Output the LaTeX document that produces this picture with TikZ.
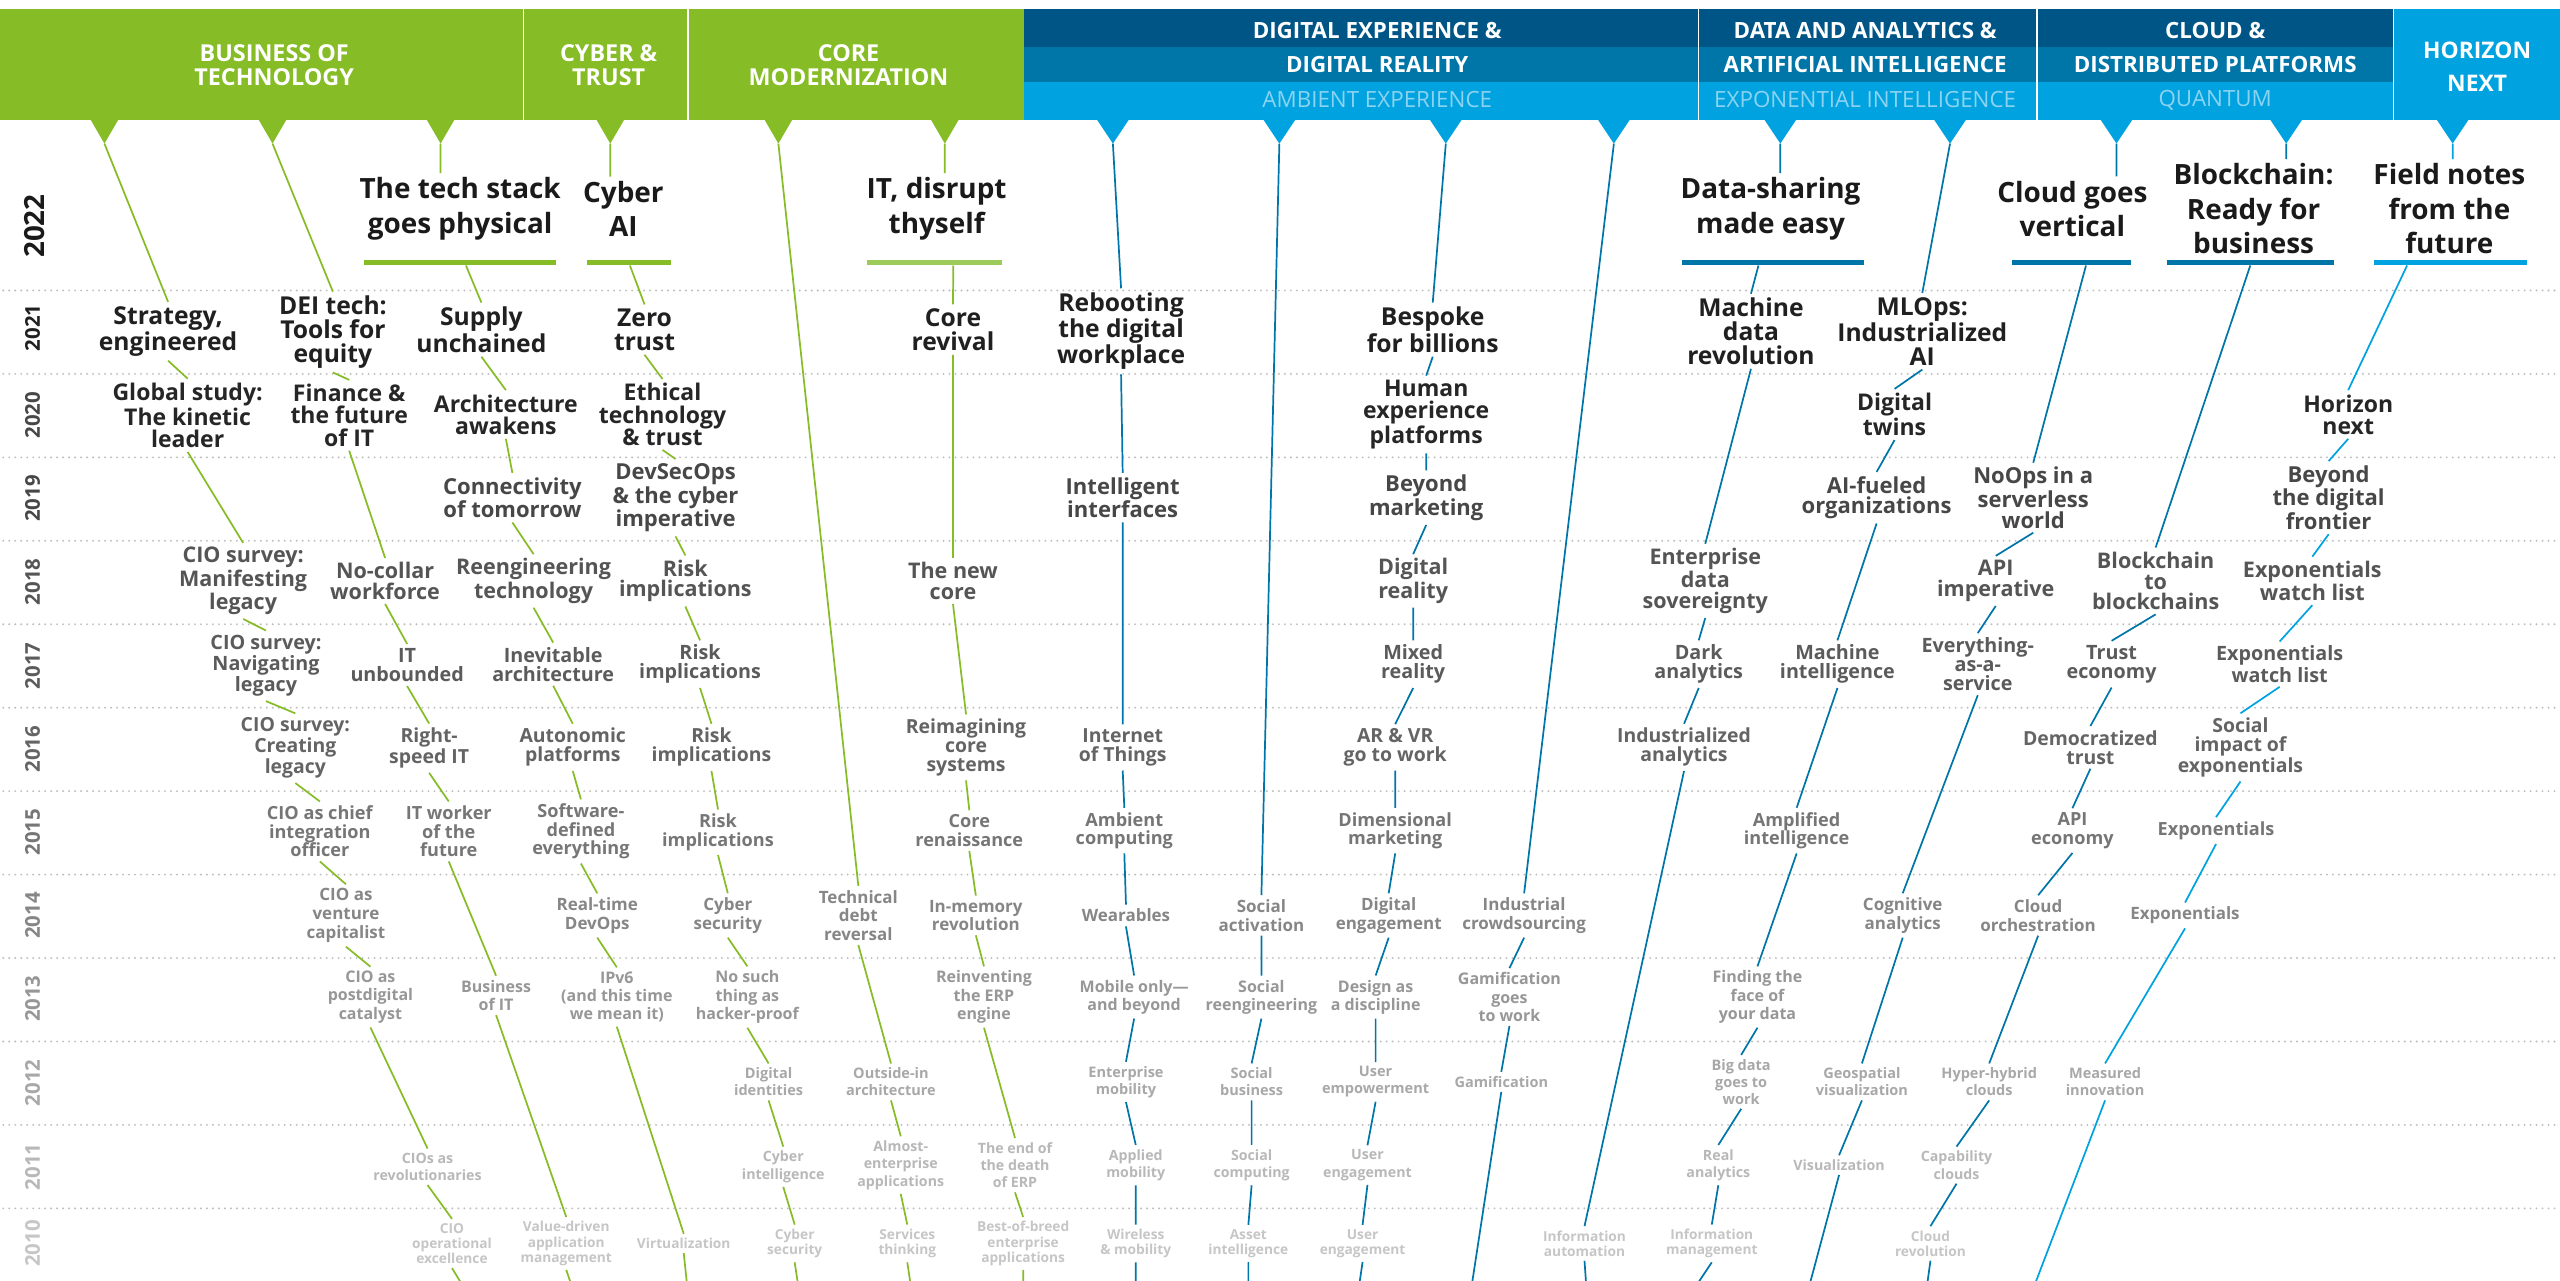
\documentclass[tikz,border=0pt]{standalone}
\usepackage{fontspec}
\setmainfont{Open Sans}
\usetikzlibrary{calc}
\definecolor{dgreen}{HTML}{86BC25}
\definecolor{lgreen}{HTML}{9DCB5A}
\definecolor{bdark}{HTML}{005587}
\definecolor{bmid}{HTML}{0076A8}
\definecolor{blight}{HTML}{00A3E0}
\definecolor{bpale}{HTML}{8CD3F1}
\definecolor{dotc}{HTML}{BEBEBE}
\definecolor{t22}{HTML}{1A1A1A}
\definecolor{t21}{HTML}{202020}
\definecolor{t20}{HTML}{262626}
\definecolor{t19}{HTML}{474747}
\definecolor{t18}{HTML}{555555}
\definecolor{t17}{HTML}{5B5B5B}
\definecolor{t16}{HTML}{646464}
\definecolor{t15}{HTML}{767676}
\definecolor{t14}{HTML}{868686}
\definecolor{t13}{HTML}{979797}
\definecolor{t12}{HTML}{A8A8A8}
\definecolor{t11}{HTML}{B8B8B8}
\definecolor{t10}{HTML}{C6C6C6}
\tikzset{
 itm/.style={align=center, inner xsep=1pt, inner ysep=2.5pt},
 r22/.style={itm,text=t22,font=\bfseries\fontsize{17.1}{21.2}\selectfont},
 r21/.style={itm,text=t21,font=\bfseries\fontsize{15.1}{14.5}\selectfont},
 r20/.style={itm,text=t20,font=\bfseries\fontsize{14.1}{13.6}\selectfont},
 r19/.style={itm,text=t19,font=\bfseries\fontsize{13.5}{12.6}\selectfont},
 r18/.style={itm,text=t18,font=\bfseries\fontsize{13.2}{12.7}\selectfont},
 r17/.style={itm,text=t17,font=\bfseries\fontsize{12.1}{11.7}\selectfont},
 r16/.style={itm,text=t16,font=\bfseries\fontsize{11.9}{11.6}\selectfont},
 r15/.style={itm,text=t15,font=\bfseries\fontsize{11.1}{11.4}\selectfont},
 r14/.style={itm,text=t14,font=\bfseries\fontsize{10.4}{11.4}\selectfont},
 r13/.style={itm,text=t13,font=\bfseries\fontsize{9.8}{11.2}\selectfont},
 r12/.style={itm,text=t12,font=\bfseries\fontsize{8.9}{10.4}\selectfont},
 r11/.style={itm,text=t11,font=\bfseries\fontsize{8.7}{10.6}\selectfont},
 r10/.style={itm,text=t10,font=\bfseries\fontsize{8.4}{9.3}\selectfont},
 yr/.style={rotate=90, inner sep=0pt, font=\bfseries\fontsize{12.5}{12.5}\selectfont},
 hdr/.style={text=white, align=center, inner sep=0pt, font=\bfseries\fontsize{14.3}{14.9}\selectfont},
 hdrl/.style={text=bpale, align=center, inner sep=0pt, font=\fontsize{13.7}{14}\selectfont},
 tbar/.style={fill=#1, draw=none, inner sep=0pt, minimum height=3pt},
 cg/.style={draw=dgreen, line width=1.05pt},
 cb/.style={draw=bmid, line width=1.05pt},
 cl/.style={draw=blight, line width=1.05pt},
 dotl/.style={draw=dotc, line width=1.3pt, line cap=round, dash pattern=on 0pt off 3.67pt},
}
\begin{document}
\begin{tikzpicture}[x=1pt,y=-1pt]
\useasboundingbox (0,0) rectangle (1568.8,785);
\fill[white] (0,0) rectangle (1568.8,785);
% ---------- header ----------
\fill[dgreen] (0,5.5) rectangle (627.5,73.5);
\fill[bdark] (627.5,5.5) rectangle (1466.7,28.6);
\fill[bmid] (627.5,28.6) rectangle (1466.7,50);
\fill[blight] (627.5,50) rectangle (1466.7,73.5);
\fill[blight] (1466.7,5.5) rectangle (1568.8,73.5);
\foreach \x in {320.7,421.7,1040.8,1248.3,1466.7}{\draw[white,line width=0.8pt] (\x,5.5) -- (\x,73.5);}
\foreach \i/\x in {0/64,1/167,2/270,3/374,4/477,5/579}{
  \fill[dgreen] (\x-8.7,73) -- (\x+8.7,73) -- (\x,88) -- cycle;
  \coordinate (p\i) at (\x,88);
}
\foreach \i/\x in {6/682,7/784,8/886,9/989,10/1091,11/1195,12/1297,13/1401,14/1503}{
  \fill[blight] (\x-10,73) -- (\x+10,73) -- (\x,88) -- cycle;
  \coordinate (p\i) at (\x,88);
}
\node[hdr] (h1) at (168,40) {BUSINESS OF\\TECHNOLOGY};
\node[hdr] (h2) at (373,40) {CYBER \&\\TRUST};
\node[hdr] (h3) at (520,40) {CORE\\MODERNIZATION};
\node[hdr, font=\bfseries\fontsize{13.7}{14}\selectfont] (h4a) at (844,18.4) {DIGITAL EXPERIENCE \&};
\node[hdr, font=\bfseries\fontsize{13.7}{14}\selectfont] (h4b) at (844,39.6) {DIGITAL REALITY};
\node[hdrl] (h4c) at (844,61.2) {AMBIENT EXPERIENCE};
\node[hdr, font=\bfseries\fontsize{13.7}{14}\selectfont] (h5a) at (1143,18.4) {DATA AND ANALYTICS \&};
\node[hdr, font=\bfseries\fontsize{13.7}{14}\selectfont] (h5b) at (1143,39.6) {ARTIFICIAL INTELLIGENCE};
\node[hdrl] (h5c) at (1143,61.2) {EXPONENTIAL INTELLIGENCE};
\node[hdr, font=\bfseries\fontsize{13.7}{14}\selectfont] (h6a) at (1357.5,18.4) {CLOUD \&};
\node[hdr, font=\bfseries\fontsize{13.7}{14}\selectfont] (h6b) at (1357.5,39.6) {DISTRIBUTED PLATFORMS};
\node[hdrl] (h6c) at (1357.5,61.2) {QUANTUM};
\node[hdr, font=\bfseries\fontsize{14}{20.4}\selectfont] (h7) at (1518,41) {HORIZON\\NEXT};
% ---------- dotted rules ----------
\foreach \k in {0,...,11}{\draw[dotl] (2,178+\k*51.136) -- (1568,178+\k*51.136);}
% ---------- years ----------
\node[yr, text=t22, font=\bfseries\fontsize{17}{17}\selectfont] (yl22) at (21,138.5) {2022};
\node[yr, text=t21] (yl21) at (20,201) {2021};
\node[yr, text=t20!85!white] (yl20) at (20,254.5) {2020};
\node[yr, text=t19] (yl19) at (20,305.5) {2019};
\node[yr, text=t18] (yl18) at (20,356.5) {2018};
\node[yr, text=t17] (yl17) at (20,408) {2017};
\node[yr, text=t16] (yl16) at (20,459) {2016};
\node[yr, text=t15] (yl15) at (20,510) {2015};
\node[yr, text=t14] (yl14) at (20,561) {2014};
\node[yr, text=t13] (yl13) at (20,612) {2013};
\node[yr, text=t12] (yl12) at (20,663.5) {2012};
\node[yr, text=t11] (yl11) at (20,715) {2011};
\node[yr, text=t10] (yl10) at (20,762) {2010};
% ---------- column 0 ----------
\node[r21] (a0y21) at (103,203) {Strategy,\\engineered};
\node[r20] (a0y20) at (115,254.5) {Global study:\\The kinetic\\leader};
\node[r18] (a0y18) at (149,356) {CIO survey:\\Manifesting\\legacy};
\node[r17] (a0y17) at (163,408) {CIO survey:\\Navigating\\legacy};
\node[r16] (a0y16) at (181,458.5) {CIO survey:\\Creating\\legacy};
\node[r15] (a0y15) at (196,509.5) {CIO as chief\\integration\\officer};
\node[r14] (a0y14) at (212,561) {CIO as\\venture\\capitalist};
\node[r13] (a0y13) at (227,611) {CIO as\\postdigital\\catalyst};
\node[r11] (a0y11) at (262,715) {CIOs as\\revolutionaries};
\node[r10] (a0y10) at (277,762) {CIO\\operational\\excellence};
% ---------- column 1 ----------
\node[r21] (a1y21) at (204,203.5) {DEI tech:\\Tools for\\equity};
\node[r20] (a1y20) at (214,254.5) {Finance \&\\the future\\of IT};
\node[r18] (a1y18) at (236,356) {No-collar\\workforce};
\node[r17] (a1y17) at (249.5,407.5) {IT\\unbounded};
\node[r16] (a1y16) at (263,458.5) {Right-\\speed IT};
\node[r15] (a1y15) at (275,509.5) {IT worker\\of the\\future};
\node[r13] (a1y13) at (304,610) {Business\\of IT};
\node[r10] (a1y10) at (347,762) {Value-driven\\application\\management};
% ---------- column 2 ----------
\node[r22] (a2y22) at (282,128) {The tech stack\\goes physical};
\node[tbar=dgreen, minimum width=118] (b2) at (282,161) {};
\node[r21] (a2y21) at (295,202) {Supply\\unchained};
\node[r20] (a2y20) at (310,254) {Architecture\\awakens};
\node[r19] (a2y19) at (314,305) {Connectivity\\of tomorrow};
\node[r18] (a2y18) at (327,356) {Reengineering\\technology};
\node[r17] (a2y17) at (339,407) {Inevitable\\architecture};
\node[r16] (a2y16) at (351,458) {Autonomic\\platforms};
\node[r15] (a2y15) at (356,509.5) {Software-\\defined\\everything};
\node[r14] (a2y14) at (366,561) {Real-time\\DevOps};
\node[r13] (a2y13) at (378,611) {IPv6\\(and this time\\we mean it)};
\node[r10] (a2y10) at (419,762) {Virtualization};
% ---------- column 3 ----------
\node[r22] (a3y22) at (382,128) {Cyber\\AI};
\node[tbar=dgreen, minimum width=51] (b3) at (385.5,161) {};
\node[r21] (a3y21) at (395,202) {Zero\\trust};
\node[r20] (a3y20) at (406,254) {Ethical\\technology\\\& trust};
\node[r19] (a3y19) at (414,305) {DevSecOps\\\& the cyber\\imperative};
\node[r18] (a3y18) at (420,356) {Risk\\implications};
\node[r17] (a3y17) at (429,407) {Risk\\implications};
\node[r16] (a3y16) at (436,458) {Risk\\implications};
\node[r15] (a3y15) at (440,510) {Risk\\implications};
\node[r14] (a3y14) at (446,561) {Cyber\\security};
\node[r13] (a3y13) at (458,611) {No such\\thing as\\hacker-proof};
\node[r12] (a3y12) at (471,663) {Digital\\identities};
\node[r11] (a3y11) at (480,715) {Cyber\\intelligence};
\node[r10] (a3y10) at (487,762) {Cyber\\security};
% ---------- column 4 ----------
\node[r14] (a4y14) at (526,561) {Technical\\debt\\reversal};
\node[r12] (a4y12) at (546,663) {Outside-in\\architecture};
\node[r11] (a4y11) at (552,714) {Almost-\\enterprise\\applications};
\node[r10] (a4y10) at (556,762) {Services\\thinking};
% ---------- column 5 ----------
\node[r22] (a5y22) at (574,128) {IT, disrupt\\thyself};
\node[tbar=lgreen, minimum width=83] (b5) at (572.5,161) {};
\node[r21] (a5y21) at (584,202) {Core\\revival};
\node[r18] (a5y18) at (584,356) {The new\\core};
\node[r16] (a5y16) at (592,458) {Reimagining\\core\\systems};
\node[r15] (a5y15) at (594,509) {Core\\renaissance};
\node[r14] (a5y14) at (598,561) {In-memory\\revolution};
\node[r13] (a5y13) at (603,611) {Reinventing\\the ERP\\engine};
\node[r11] (a5y11) at (622,714) {The end of\\the death\\of ERP};
\node[r10] (a5y10) at (627,762) {Best-of-breed\\enterprise\\applications};
% ---------- column 6 ----------
\node[r21] (a6y21) at (687,203) {Rebooting\\the digital\\workplace};
\node[r19] (a6y19) at (688,305) {Intelligent\\interfaces};
\node[r16] (a6y16) at (688,458) {Internet\\of Things};
\node[r15] (a6y15) at (689,509) {Ambient\\computing};
\node[r14] (a6y14) at (690,561) {Wearables};
\node[r13] (a6y13) at (695,611) {Mobile only—\\and beyond};
\node[r12] (a6y12) at (690,663) {Enterprise\\mobility};
\node[r11] (a6y11) at (696,714) {Applied\\mobility};
\node[r10] (a6y10) at (696,762) {Wireless\\\& mobility};
% ---------- column 7 ----------
\node[r14] (a7y14) at (773,561) {Social\\activation};
\node[r13] (a7y13) at (773,611) {Social\\reengineering};
\node[r12] (a7y12) at (767,663) {Social\\business};
\node[r11] (a7y11) at (767,714) {Social\\computing};
\node[r10] (a7y10) at (765,762) {Asset\\intelligence};
% ---------- column 8 ----------
\node[r21] (a8y21) at (878,202) {Bespoke\\for billions};
\node[r20] (a8y20) at (874,254) {Human\\experience\\platforms};
\node[r19] (a8y19) at (874,305) {Beyond\\marketing};
\node[r18] (a8y18) at (866,356) {Digital\\reality};
\node[r17] (a8y17) at (866,407) {Mixed\\reality};
\node[r16] (a8y16) at (855,458) {AR \& VR\\go to work};
\node[r15] (a8y15) at (855,509) {Dimensional\\marketing};
\node[r14] (a8y14) at (851,561) {Digital\\engagement};
\node[r13] (a8y13) at (843,611) {Design as\\a discipline};
\node[r12] (a8y12) at (843,663) {User\\empowerment};
\node[r11] (a8y11) at (838,714) {User\\engagement};
\node[r10] (a8y10) at (835,762) {User\\engagement};
% ---------- column 9 ----------
\node[r14] (a9y14) at (934,561) {Industrial\\crowdsourcing};
\node[r13] (a9y13) at (925,611) {Gamification\\goes\\to work};
\node[r12] (a9y12) at (920,663) {Gamification};
% ---------- column 10 ----------
\node[r22] (a10y22) at (1085,128) {Data-sharing\\made easy};
\node[tbar=bmid, minimum width=111] (b10) at (1086.5,161) {};
\node[r21] (a10y21) at (1073,203) {Machine\\data\\revolution};
\node[r18] (a10y18) at (1045,356) {Enterprise\\data\\sovereignty};
\node[r17] (a10y17) at (1041,407) {Dark\\analytics};
\node[r16] (a10y16) at (1032,458) {Industrialized\\analytics};
\node[r10] (a10y10) at (971,762) {Information\\automation};
% ---------- column 11 ----------
\node[r21] (a11y21) at (1178,203) {MLOps:\\Industrialized\\AI};
\node[r20] (a11y20) at (1161,254) {Digital\\twins};
\node[r19] (a11y19) at (1150,305) {AI-fueled\\organizations};
\node[r17] (a11y17) at (1126,407) {Machine\\intelligence};
\node[r15] (a11y15) at (1101,509) {Amplified\\intelligence};
\node[r13] (a11y13) at (1077,611) {Finding the\\face of\\your data};
\node[r12] (a11y12) at (1067,663) {Big data\\goes to\\work};
\node[r11] (a11y11) at (1053,714) {Real\\analytics};
\node[r10] (a11y10) at (1049,762) {Information\\management};
% ---------- column 12 ----------
\node[r22] (a12y22) at (1270,128) {Cloud goes\\vertical};
\node[tbar=bmid, minimum width=73] (b12) at (1269.5,161) {};
\node[r19] (a12y19) at (1246,305) {NoOps in a\\serverless\\world};
\node[r18] (a12y18) at (1223,356) {API\\imperative};
\node[r17] (a12y17) at (1212,407) {Everything-\\as-a-\\service};
\node[r14] (a12y14) at (1166,561) {Cognitive\\analytics};
\node[r12] (a12y12) at (1141,663) {Geospatial\\visualization};
\node[r11] (a12y11) at (1127,714) {Visualization};
% ---------- column 13 ----------
\node[r22] (a13y22) at (1381,128) {Blockchain:\\Ready for\\business};
\node[tbar=bmid, minimum width=102] (b13) at (1379,161) {};
\node[r18] (a13y18) at (1321,356) {Blockchain\\to\\blockchains};
\node[r17] (a13y17) at (1294,407) {Trust\\economy};
\node[r16] (a13y16) at (1281,458) {Democratized\\trust};
\node[r15] (a13y15) at (1270,509) {API\\economy};
\node[r14] (a13y14) at (1249,561) {Cloud\\orchestration};
\node[r12] (a13y12) at (1219,663) {Hyper-hybrid\\clouds};
\node[r11] (a13y11) at (1199,714) {Capability\\clouds};
\node[r10] (a13y10) at (1183,762) {Cloud\\revolution};
% ---------- column 14 ----------
\node[r22] (a14y22) at (1501,128) {Field notes\\from the\\future};
\node[tbar=blight, minimum width=94] (b14) at (1501.5,161) {};
\node[r20] (a14y20) at (1439,254) {Horizon\\next};
\node[r19] (a14y19) at (1427,305) {Beyond\\the digital\\frontier};
\node[r18] (a14y18) at (1417,356) {Exponentials\\watch list};
\node[r17] (a14y17) at (1397,407) {Exponentials\\watch list};
\node[r16] (a14y16) at (1373,458) {Social\\impact of\\exponentials};
\node[r15] (a14y15) at (1358,509) {Exponentials};
\node[r14] (a14y14) at (1339,561) {Exponentials};
\node[r12] (a14y12) at (1290,663) {Measured\\innovation};
% ---------- bottom ends ----------
\foreach \i/\x in {0/283,1/350,2/421,3/489,4/558,5/627,6/696,7/765,8/833,9/902,10/972,11/1040,12/1109,13/1181,14/1247}{
  \coordinate (e\i) at (\x,787);
}
% ---------- connectors ----------
\draw[cg] (p0) -- (a0y21.north) (a0y21.south) -- (a0y20.north) (a0y20.south) -- (a0y18.north)
  (a0y18.south) -- (a0y17.north) (a0y17.south) -- (a0y16.north) (a0y16.south) -- (a0y15.north)
  (a0y15.south) -- (a0y14.north) (a0y14.south) -- (a0y13.north) (a0y13.south) -- (a0y11.north)
  (a0y11.south) -- (a0y10.north) (a0y10.south) -- (e0);
\draw[cg] (p1) -- (a1y21.north) (a1y21.south) -- (a1y20.north) (a1y20.south) -- (a1y18.north)
  (a1y18.south) -- (a1y17.north) (a1y17.south) -- (a1y16.north) (a1y16.south) -- (a1y15.north)
  (a1y15.south) -- (a1y13.north) (a1y13.south) -- (a1y10.north) (a1y10.south) -- (e1);
\draw[cg] (p2) -- (p2 |- a2y22.north) ($(b2.south west)!0.53!(b2.south east)$) -- (a2y21.north) (a2y21.south) -- (a2y20.north)
  (a2y20.south) -- (a2y19.north) (a2y19.south) -- (a2y18.north) (a2y18.south) -- (a2y17.north)
  (a2y17.south) -- (a2y16.north) (a2y16.south) -- (a2y15.north) (a2y15.south) -- (a2y14.north)
  (a2y14.south) -- (a2y13.north) (a2y13.south) -- (a2y10.north) (a2y10.south) -- (e2);
\draw[cg] (p3) -- (p3 |- a3y22.north) ($(b3.south west)!0.51!(b3.south east)$) -- (a3y21.north) (a3y21.south) -- (a3y20.north)
  (a3y20.south) -- (a3y19.north) (a3y19.south) -- (a3y18.north) (a3y18.south) -- (a3y17.north)
  (a3y17.south) -- (a3y16.north) (a3y16.south) -- (a3y15.north) (a3y15.south) -- (a3y14.north)
  (a3y14.south) -- (a3y13.north) (a3y13.south) -- (a3y12.north) (a3y12.south) -- (a3y11.north)
  (a3y11.south) -- (a3y10.north) (a3y10.south) -- (e3);
\draw[cg] (p4) -- (a4y14.north) (a4y14.south) -- (a4y12.north) (a4y12.south) -- (a4y11.north)
  (a4y11.south) -- (a4y10.north) (a4y10.south) -- (e4);
\draw[cg] (p5) -- (p5 |- a5y22.north) ($(b5.south west)!0.64!(b5.south east)$) -- (a5y21.north) (a5y21.south) -- (a5y18.north)
  (a5y18.south) -- (a5y16.north) (a5y16.south) -- (a5y15.north) (a5y15.south) -- (a5y14.north)
  (a5y14.south) -- (a5y13.north) (a5y13.south) -- (a5y11.north) (a5y11.south) -- (a5y10.north)
  (a5y10.south) -- (e5);
\draw[cb] (p6) -- (a6y21.north) (a6y21.south) -- (a6y19.north) (a6y19.south) -- (a6y16.north)
  (a6y16.south) -- (a6y15.north) (a6y15.south) -- (a6y14.north) (a6y14.south) -- (a6y13.north)
  (a6y13.south) -- (a6y12.north) (a6y12.south) -- (a6y11.north) (a6y11.south) -- (a6y10.north)
  (a6y10.south) -- (e6);
\draw[cb] (p7) -- (a7y14.north) (a7y14.south) -- (a7y13.north) (a7y13.south) -- (a7y12.north)
  (a7y12.south) -- (a7y11.north) (a7y11.south) -- (a7y10.north) (a7y10.south) -- (e7);
\draw[cb] (p8) -- (a8y21.north) (a8y21.south) -- (a8y20.north) (a8y20.south) -- (a8y19.north)
  (a8y19.south) -- (a8y18.north) (a8y18.south) -- (a8y17.north) (a8y17.south) -- (a8y16.north)
  (a8y16.south) -- (a8y15.north) (a8y15.south) -- (a8y14.north) (a8y14.south) -- (a8y13.north)
  (a8y13.south) -- (a8y12.north) (a8y12.south) -- (a8y11.north) (a8y11.south) -- (a8y10.north)
  (a8y10.south) -- (e8);
\draw[cb] (p9) -- (a9y14.north) (a9y14.south) -- (a9y13.north) (a9y13.south) -- (a9y12.north)
  (a9y12.south) -- (e9);
\draw[cb] (p10) -- (p10 |- a10y22.north) ($(b10.south west)!0.42!(b10.south east)$) -- (a10y21.north) (a10y21.south) -- (a10y18.north)
  (a10y18.south) -- (a10y17.north) (a10y17.south) -- (a10y16.north) (a10y16.south) -- (a10y10.north)
  (a10y10.south) -- (e10);
\draw[cb] (p11) -- (a11y21.north) (a11y21.south) -- (a11y20.north) (a11y20.south) -- (a11y19.north)
  (a11y19.south) -- (a11y17.north) (a11y17.south) -- (a11y15.north) (a11y15.south) -- (a11y13.north)
  (a11y13.south) -- (a11y12.north) (a11y12.south) -- (a11y11.north) (a11y11.south) -- (a11y10.north)
  (a11y10.south) -- (e11);
\draw[cb] (p12) -- (p12 |- a12y22.north) ($(b12.south west)!0.62!(b12.south east)$) -- (a12y19.north) (a12y19.south) -- (a12y18.north)
  (a12y18.south) -- (a12y17.north) (a12y17.south) -- (a12y14.north) (a12y14.south) -- (a12y12.north)
  (a12y12.south) -- (a12y11.north) (a12y11.south) -- (e12);
\draw[cb] (p13) -- (p13 |- a13y22.north) (b13.south) -- (a13y18.north) (a13y18.south) -- (a13y17.north)
  (a13y17.south) -- (a13y16.north) (a13y16.south) -- (a13y15.north) (a13y15.south) -- (a13y14.north)
  (a13y14.south) -- (a13y12.north) (a13y12.south) -- (a13y11.north) (a13y11.south) -- (a13y10.north)
  (a13y10.south) -- (e13);
\draw[cl] (p14) -- (p14 |- a14y22.north) ($(b14.south west)!0.22!(b14.south east)$) -- (a14y20.north)
  (a14y20.south) -- (a14y19.north) (a14y19.south) -- (a14y18.north) (a14y18.south) -- (a14y17.north)
  (a14y17.south) -- (a14y16.north) (a14y16.south) -- (a14y15.north) (a14y15.south) -- (a14y14.north)
  (a14y14.south) -- (a14y12.north) (a14y12.south) -- (e14);
\end{tikzpicture}
\end{document}
